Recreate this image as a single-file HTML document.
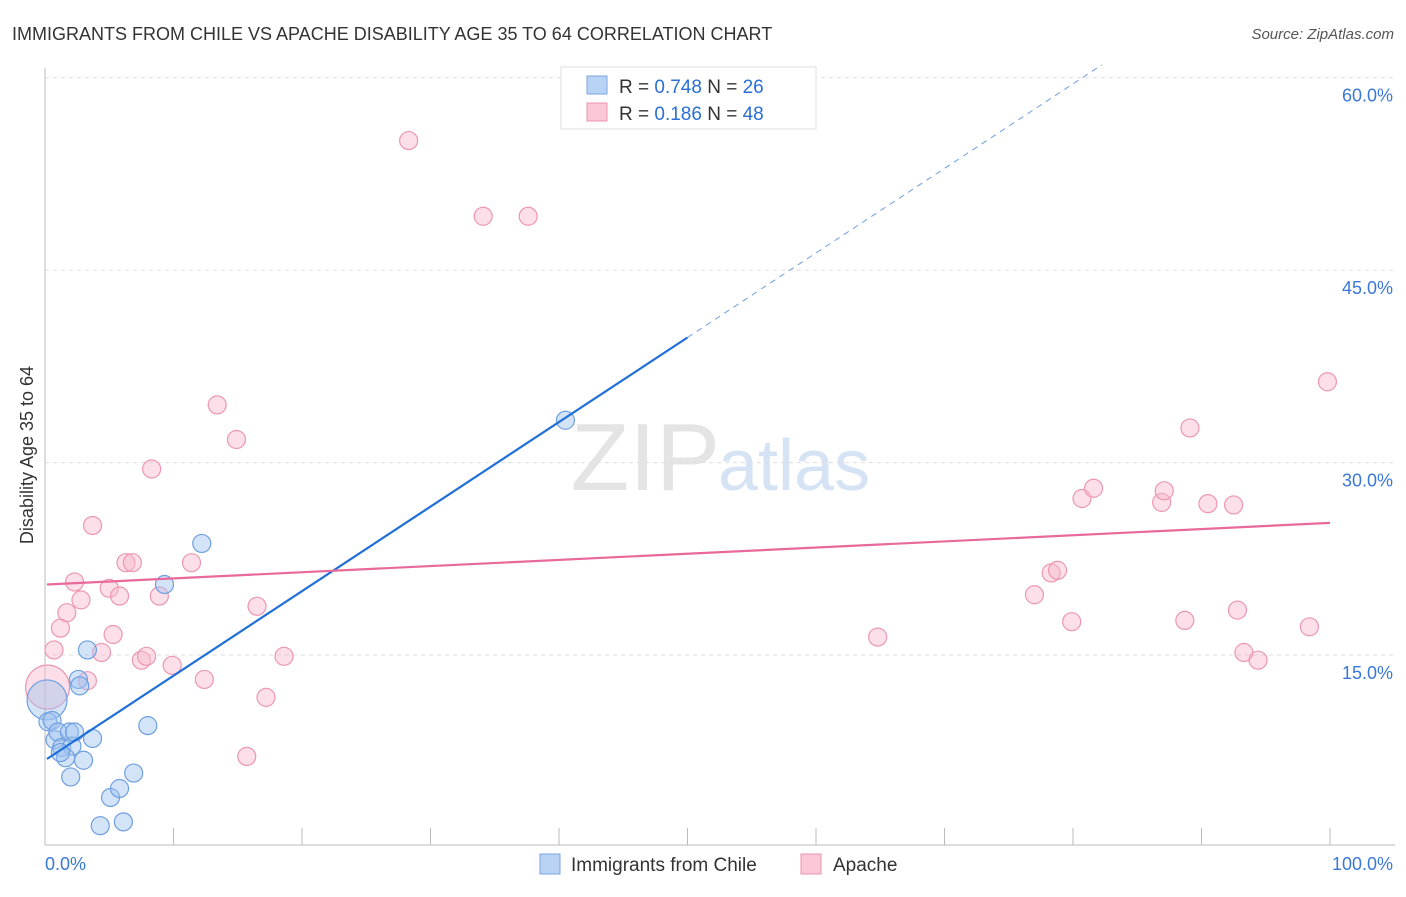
<!DOCTYPE html>
<html><head><meta charset="utf-8"><style>
body{margin:0;background:#fff;font-family:"Liberation Sans",sans-serif}
svg text{font-family:"Liberation Sans",sans-serif}
</style></head><body>
<svg id="c" width="1406" height="892">
<text x="12" y="40" font-size="18" fill="#333">IMMIGRANTS FROM CHILE VS APACHE DISABILITY AGE 35 TO 64 CORRELATION CHART</text>
<text x="1394" y="39" font-size="15" fill="#555" font-style="italic" text-anchor="end">Source: ZipAtlas.com</text>
<text x="720" y="490" font-size="96" fill="#e4e4e4" text-anchor="end" font-family="Liberation Serif">ZIP</text>
<text x="718" y="490" font-size="72" fill="#d5e3f5">atlas</text>
<text transform="translate(33,455) rotate(-90)" font-size="18" fill="#333" text-anchor="middle">Disability Age 35 to 64</text>
<g id="grid"></g><g id="pts"></g><g id="lines"></g>
<g>
<rect x="561" y="67" width="255" height="62" fill="#fff" stroke="#ddd"/>
<rect x="587" y="76" width="20" height="18" fill="#b9d3f5" stroke="#7aa6e0"/>
<rect x="587" y="103" width="20" height="18" fill="#fbc8d6" stroke="#ea94ae"/>
<text x="619" y="93" font-size="19" fill="#333">R = <tspan fill="#2a6fd6">0.748</tspan>   N = <tspan fill="#2a6fd6">26</tspan></text>
<text x="619" y="120" font-size="19" fill="#333">R =  <tspan fill="#2a6fd6">0.186</tspan>   N = <tspan fill="#2a6fd6">48</tspan></text>
</g>
<g>
<rect x="540" y="854" width="20" height="20" fill="#b9d3f5" stroke="#7aa6e0"/>
<text x="571" y="871" font-size="19" fill="#333">Immigrants from Chile</text>
<rect x="801" y="854" width="20" height="20" fill="#fbc8d6" stroke="#ea94ae"/>
<text x="833" y="871" font-size="19" fill="#333">Apache</text>
</g>
</svg>
<script>
const yTicks=[15,30,45,60];
const yTickLabels=["15.0%","30.0%","45.0%","60.0%"];
const xTickLabels=["0.0%","100.0%"];
const chileX=[0.16,0.23,0.55,0.78,1.0,1.3,1.9,2.1,1.6,2.0,2.3,2.6,2.7,3.0,3.3,3.7,4.3,5.1,5.8,6.1,6.9,8.0,9.3,12.2,40.5,1.2];
const chileY=[11.5,9.8,9.9,8.4,9.0,7.8,9.0,7.9,7.0,5.5,9.0,13.1,12.6,6.8,15.4,8.5,1.7,3.9,4.6,2.0,5.8,9.5,20.5,23.7,33.3,7.4];
const apacheX=[0.2,0.7,1.2,1.7,2.3,2.8,3.3,3.7,4.4,5.0,5.3,5.8,6.3,6.8,7.5,7.9,8.3,8.9,9.9,11.4,12.4,13.4,14.9,15.7,16.5,17.2,18.6,28.3,34.1,37.6,64.8,77.0,78.3,78.8,79.9,80.7,81.6,86.9,87.1,88.7,89.1,90.5,92.5,92.8,93.3,94.4,98.4,99.8];
const apacheY=[12.5,15.4,17.1,18.3,20.7,19.3,13.0,25.1,15.2,20.2,16.6,19.6,22.2,22.2,14.6,14.9,29.5,19.6,14.2,22.2,13.1,34.5,31.8,7.1,18.8,11.7,14.9,55.1,49.2,49.2,16.4,19.7,21.4,21.6,17.6,27.2,28.0,26.9,27.8,17.7,32.7,26.8,26.7,18.5,15.2,14.6,17.2,36.3];
const chileFit=[6.8,0.659];
const apacheFit=[20.5,0.048];
const NS="http://www.w3.org/2000/svg";
const sx=v=>45+v*12.85, sy=v=>847.5-v*12.83;
function mk(tag,attrs,parent){const e=document.createElementNS(NS,tag);for(const k in attrs)e.setAttribute(k,attrs[k]);parent.appendChild(e);return e;}
const svg=document.getElementById('c'),grid=document.getElementById('grid'),pts=document.getElementById('pts'),lines=document.getElementById('lines');
mk('line',{x1:45,y1:68,x2:45,y2:845,stroke:'#bbb'},grid);
mk('line',{x1:45,y1:845,x2:1395,y2:845,stroke:'#bbb'},grid);
for(let i=1;i<=10;i++){const t=mk('line',{x1:sx(i*10),x2:sx(i*10),y1:828,y2:845,stroke:'#bbb'},grid);

}
yTicks.forEach((v,i)=>{const g=mk('line',{x1:45,x2:1395,y1:sy(v),y2:sy(v),stroke:'#ddd','stroke-dasharray':'4,4'},grid);


const t=mk('text',{x:1393,y:sy(v)+24,'font-size':18,fill:'#3a78d8','text-anchor':'end'},grid);t.textContent=yTickLabels[i];

});
xTickLabels.forEach((s,i)=>{const t=mk('text',{x:i?1393:45,y:870,'font-size':18,fill:'#3a78d8','text-anchor':i?'end':'start'},grid);t.textContent=s;

});
apacheX.forEach((x,i)=>{const c=mk('circle',{cx:sx(x),cy:sy(apacheY[i]),r:i==0?22:9,fill:'rgba(248,185,203,0.45)',stroke:'#ec97b1','stroke-width':1.2},pts);

});
chileX.forEach((x,i)=>{const c=mk('circle',{cx:sx(x),cy:sy(chileY[i]),r:i==0?20:9,fill:'rgba(160,196,240,0.45)',stroke:'#6f9fe0','stroke-width':1.2},pts);

});
let l=mk('line',{x1:sx(0.15),y1:sy(chileFit[0]+chileFit[1]*0.15),x2:sx(50),y2:sy(chileFit[0]+chileFit[1]*50),stroke:'#1f6fd8','stroke-width':2.2},lines);


const xe=(61-chileFit[0])/chileFit[1];
l=mk('line',{x1:sx(50),y1:sy(chileFit[0]+chileFit[1]*50),x2:sx(xe),y2:sy(61),stroke:'#6f9fe0','stroke-width':1,'stroke-dasharray':'6,5'},lines);


l=mk('line',{x1:sx(0.15),y1:sy(apacheFit[0]),x2:sx(100),y2:sy(apacheFit[0]+apacheFit[1]*100),stroke:'#e8699a','stroke-width':2.2},lines);


</script>
</body></html>
